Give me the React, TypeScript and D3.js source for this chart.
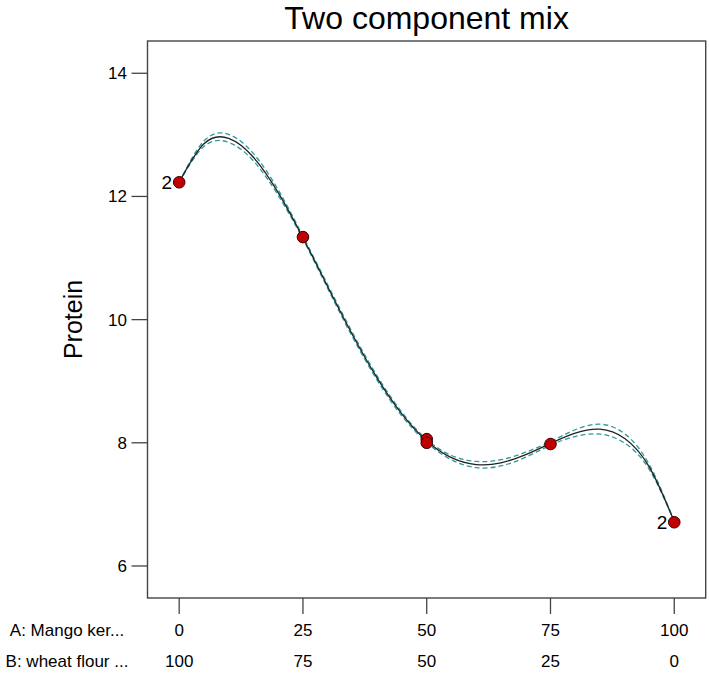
import React from "react";
import * as d3 from "d3";

// Mixture proportions (A: Mango kernel %, B = 100 - A)
const curveX = [0, 5, 10, 15, 20, 25, 30, 35, 40, 45, 50, 55, 60, 65, 70, 75, 80, 85, 90, 95, 100];
const curveY = [12.23, 12.855, 12.943, 12.636, 12.062, 11.33, 10.535, 9.754, 9.049, 8.464, 8.03, 7.759, 7.647, 7.675, 7.807, 7.99, 8.157, 8.222, 8.07, 7.6, 6.72];
const bandHalf = [0.0, 0.045, 0.065, 0.06, 0.045, 0.025, 0.03, 0.035, 0.035, 0.03, 0.025, 0.035, 0.05, 0.05, 0.04, 0.03, 0.055, 0.08, 0.075, 0.04, 0.0];

const pointX = [0, 25, 50, 50, 75, 100];
const pointY = [12.23, 11.34, 8.06, 8.0, 7.98, 6.71];
const repLabels = [
  { x: 0, y: 12.23, text: "2" },
  { x: 100, y: 6.71, text: "2" },
];

const yTicks = [6, 8, 10, 12, 14];
const xTicks = [0, 25, 50, 75, 100];
const rowA = ["0", "25", "50", "75", "100"];
const rowB = ["100", "75", "50", "25", "0"];
const rowNames = ["A: Mango ker...", "B: wheat flour ..."];
const title = "Two component mix";
const yTitle = "Protein";

export default function App() {
  const W = 709, H = 673;
  const left = 147.5, right = 705.7, top = 41, bottom = 598;
  const x = d3.scaleLinear().domain([-6.4, 106.35]).range([left, right]);
  const y = d3.scaleLinear().domain([5.48, 14.524]).range([bottom, top]);
  const font = "Liberation Sans, Arial, sans-serif";

  const idx = curveX.map((_, i) => i);
  const line = d3.line<number>().x((i) => x(curveX[i])).y((i) => y(curveY[i])).curve(d3.curveNatural);
  const upper = d3.line<number>().x((i) => x(curveX[i])).y((i) => y(curveY[i] + bandHalf[i])).curve(d3.curveNatural);
  const lower = d3.line<number>().x((i) => x(curveX[i])).y((i) => y(curveY[i] - bandHalf[i])).curve(d3.curveNatural);

  const teal = "#2f9a9c";
  return (
    <svg width={W} height={H} style={{ position: "absolute", left: 0, top: 0, background: "#fff" }} fontFamily={font}>
      <rect x={0} y={0} width={W} height={H} fill="#fff" />
      <text x={(left + right) / 2} y={29} textAnchor="middle" fontSize={32} fill="#000">{title}</text>
      <rect x={left} y={top} width={right - left} height={bottom - top} fill="none" stroke="#444" strokeWidth={1.4} />
      {yTicks.map((t) => (
        <g key={"y" + t}>
          <line x1={131.5} x2={left} y1={y(t)} y2={y(t)} stroke="#444" strokeWidth={1.3} />
          <text x={127} y={y(t)} dy="0.35em" textAnchor="end" fontSize={17} fill="#000">{t}</text>
        </g>
      ))}
      <text transform={`translate(82,${(top + bottom) / 2}) rotate(-90)`} textAnchor="middle" fontSize={25} fill="#000">{yTitle}</text>
      {xTicks.map((t, i) => (
        <g key={"x" + t}>
          <line x1={x(t)} x2={x(t)} y1={bottom} y2={614} stroke="#444" strokeWidth={1.3} />
          <text x={x(t)} y={636} textAnchor="middle" fontSize={17} fill="#000">{rowA[i]}</text>
          <text x={x(t)} y={667} textAnchor="middle" fontSize={17} fill="#000">{rowB[i]}</text>
        </g>
      ))}
      <text x={67} y={636} textAnchor="middle" fontSize={17} fill="#000">{rowNames[0]}</text>
      <text x={67} y={667} textAnchor="middle" fontSize={17} fill="#000">{rowNames[1]}</text>

      <path d={upper(idx) || ""} fill="none" stroke={teal} strokeWidth={1.3} strokeDasharray="5,3" />
      <path d={lower(idx) || ""} fill="none" stroke={teal} strokeWidth={1.3} strokeDasharray="5,3" />
      <path d={line(idx) || ""} fill="none" stroke="#222" strokeWidth={1.3} />

      {pointX.map((px, i) => (
        <circle key={"p" + i} cx={x(px)} cy={y(pointY[i])} r={5.8} fill="#c00000" stroke="#3a0000" strokeWidth={1} />
      ))}
      {repLabels.map((l, i) => (
        <text key={"r" + i} x={x(l.x) - 7} y={y(l.y)} dy="0.36em" textAnchor="end" fontSize={19} fill="#000">{l.text}</text>
      ))}
    </svg>
  );
}
